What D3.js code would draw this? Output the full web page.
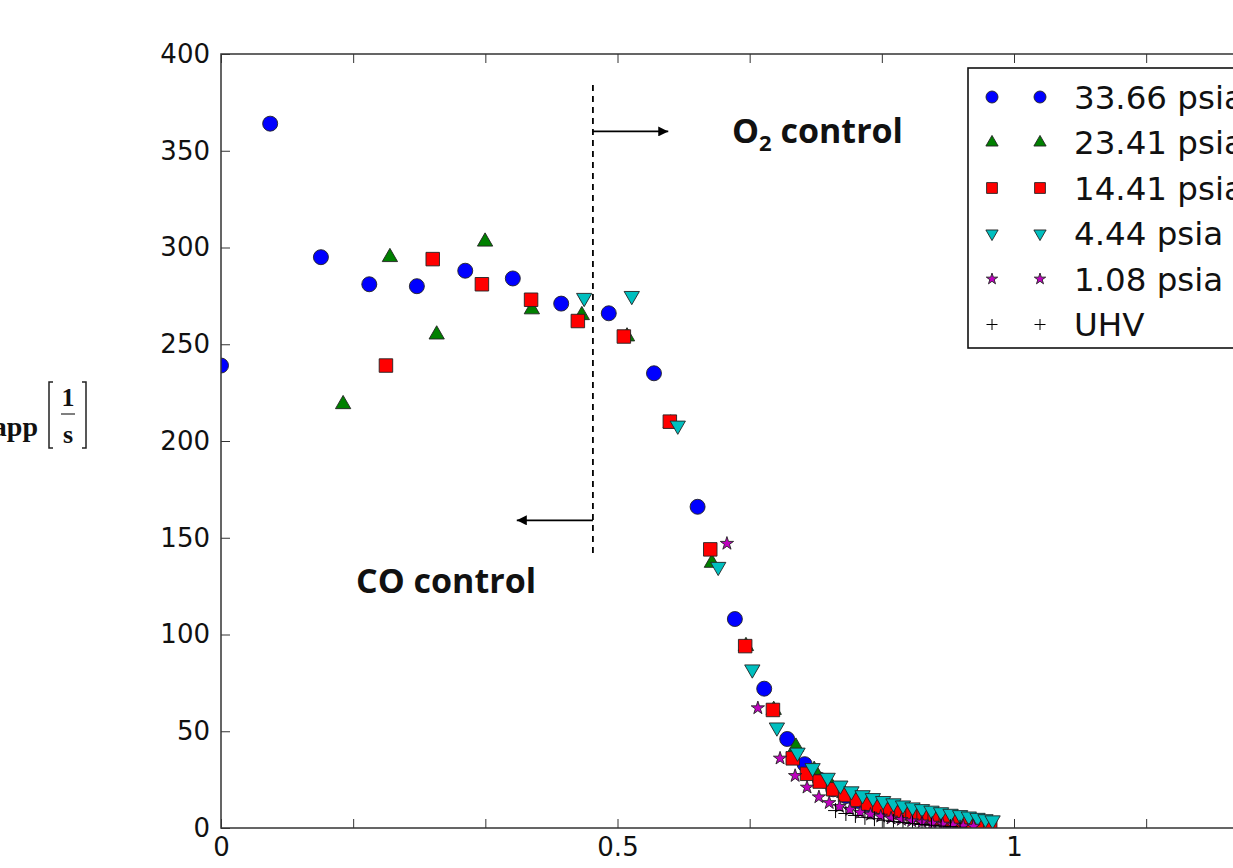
<!DOCTYPE html>
<html>
<head>
<meta charset="utf-8">
<script src="https://d3js.org/d3.v7.min.js"></script>
<style>
  html, body { margin: 0; background: #fff; overflow: hidden; }
</style>
</head>
<body>
<svg id="svg"></svg>
<script>
// ---- data ----
const seriesNames = ["33.66 psia", "23.41 psia", "14.41 psia", "4.44 psia", "1.08 psia", "UHV"];

const x3366 = [0, 0.062, 0.126, 0.187, 0.247, 0.308, 0.368, 0.429, 0.489, 0.546, 0.601, 0.648, 0.685, 0.714, 0.736, 0.755, 0.772, 0.788, 0.803, 0.818, 0.832, 0.846, 0.860, 0.874, 0.888, 0.902, 0.916, 0.930, 0.944];
const y3366 = [239, 364, 295, 281, 280, 288, 284, 271, 266, 235, 166, 108, 72, 46, 33, 25, 20, 16.5, 14, 12, 10.5, 9, 8, 7, 6, 5, 4, 3, 2];

const x2341 = [0.154, 0.213, 0.272, 0.333, 0.392, 0.455, 0.512, 0.567, 0.619, 0.662, 0.697, 0.725, 0.748, 0.768, 0.786, 0.802, 0.818, 0.833, 0.848, 0.862, 0.876, 0.890, 0.904, 0.918, 0.932, 0.946, 0.960];
const y2341 = [219, 295, 255, 303, 268, 265, 254, 209, 137, 94, 61, 42, 30, 23, 18, 15, 12.5, 10.5, 9, 7.5, 6.5, 5.5, 4.5, 3.5, 2.5, 1.8, 1];

const x1441 = [0.208, 0.267, 0.329, 0.391, 0.450, 0.508, 0.566, 0.617, 0.661, 0.696, 0.721, 0.739, 0.755, 0.772, 0.787, 0.802, 0.816, 0.830, 0.844, 0.858, 0.872, 0.886, 0.900, 0.914, 0.928, 0.942, 0.956, 0.970];
const y1441 = [239, 294, 281, 273, 262, 254, 210, 144, 94, 61, 36, 28, 24, 20, 17, 14.5, 12.5, 11, 9.5, 8, 7, 6, 5, 4, 3, 2, 1.2, 0.5];

const x444 = [0.458, 0.518, 0.576, 0.627, 0.670, 0.701, 0.727, 0.746, 0.765, 0.781, 0.795, 0.809, 0.822, 0.835, 0.848, 0.860, 0.872, 0.884, 0.896, 0.908, 0.920, 0.932, 0.943, 0.954, 0.964, 0.973];
const y444 = [274, 275, 208, 135, 82, 52, 39, 31, 26, 22, 19, 17, 15.5, 14, 12.8, 11.7, 10.7, 9.8, 9, 8.2, 7.4, 6.7, 6, 5.3, 4.6, 4];

const x108 = [0.638, 0.677, 0.705, 0.724, 0.739, 0.754, 0.767, 0.780, 0.793, 0.806, 0.819, 0.832, 0.845, 0.858, 0.871, 0.884, 0.897, 0.910, 0.923, 0.936, 0.949];
const y108 = [147, 62, 36, 27, 21, 16, 13, 11, 9.5, 8, 7, 6, 5, 4.3, 3.6, 3, 2.4, 1.9, 1.4, 1, 0.8];

const xUHV = [0.775, 0.788, 0.800, 0.812, 0.824, 0.836, 0.848, 0.860, 0.872, 0.884, 0.896, 0.908, 0.920, 0.932];
const yUHV = [9, 7.5, 6.5, 5.5, 4.8, 4, 3.4, 2.8, 2.3, 1.8, 1.4, 1, 0.7, 0.4];

const xTicks = [0, 1/6, 2/6, 0.5, 4/6, 5/6, 1, 7/6, 8/6, 1.5];
const xTickLabels = {0: "0", 0.5: "0.5", 1: "1"};
const yTicks = [0, 50, 100, 150, 200, 250, 300, 350, 400];

// boundary between regimes and the arrows
const divider = {x: 0.469, y0: 141, y1: 384};
const arrowO2 = {x0: 0.469, x1: 0.564, y: 360};
const arrowCO = {x0: 0.469, x1: 0.373, y: 159};

// ---- layout ----
const W = 1233, H = 868;
const svg = d3.select("#svg").attr("width", W).attr("height", H);

const plotLeft = 221, plotTop = 54, plotBottom = 828;
const x = d3.scaleLinear().domain([0, 1.5]).range([plotLeft, plotLeft + 793 * 1.5]);
const y = d3.scaleLinear().domain([0, 400]).range([plotBottom, plotTop]);

const series = [
  {name: seriesNames[0], xs: x3366, ys: y3366, color: "#0000ff", shape: "circle"},
  {name: seriesNames[1], xs: x2341, ys: y2341, color: "#008000", shape: "tri"},
  {name: seriesNames[2], xs: x1441, ys: y1441, color: "#ff0000", shape: "square"},
  {name: seriesNames[3], xs: x444, ys: y444, color: "#00bfbf", shape: "tridown"},
  {name: seriesNames[4], xs: x108, ys: y108, color: "#bf00bf", shape: "star"},
  {name: seriesNames[5], xs: xUHV, ys: yUHV, color: "#000000", shape: "plus"}
];

function markerPath(shape, s) {
  // s = nominal marker size in px
  switch (shape) {
    case "circle": return d3.symbol(d3.symbolCircle, Math.PI * (s / 2) ** 2)();
    case "square": return d3.symbol(d3.symbolSquare, (s * 0.9) ** 2)();
    case "tri": return d3.symbol(d3.symbolTriangle, (s ** 2) * 0.45)();
    case "tridown": return d3.symbol(d3.symbolTriangle, (s ** 2) * 0.45)();
    case "star": return d3.symbol(d3.symbolStar, (s ** 2) * 0.28)();
    case "plus": {
      const h = s / 2;
      return `M${-h},0L${h},0M0,${-h}L0,${h}`;
    }
  }
}

function drawMarker(g, shape, color, s, cx, cy) {
  const p = g.append("path")
    .attr("d", markerPath(shape, s))
    .attr("transform", `translate(${cx},${cy})` + (shape === "tridown" ? " rotate(180)" : ""));
  if (shape === "plus") {
    p.attr("fill", "none").attr("stroke", color).attr("stroke-width", 1);
  } else {
    p.attr("fill", color).attr("stroke", "#222").attr("stroke-width", 0.9);
  }
}

svg.append("clipPath").attr("id", "clip")
  .append("rect").attr("x", plotLeft).attr("y", plotTop).attr("width", x(1.5) - plotLeft).attr("height", plotBottom - plotTop);

const plot = svg.append("g").attr("clip-path", "url(#clip)");
series.forEach(sr => {
  const g = plot.append("g");
  sr.xs.forEach((xv, i) => drawMarker(g, sr.shape, sr.color, sr.shape === "star" ? 14 : 15, x(xv), y(sr.ys[i])));
});

// ---- axes frame ----
svg.append("rect")
  .attr("x", plotLeft).attr("y", plotTop)
  .attr("width", x(1.5) - plotLeft).attr("height", plotBottom - plotTop)
  .attr("fill", "none").attr("stroke", "#333").attr("stroke-width", 1.5);

const axisX = svg.append("g").attr("transform", `translate(0,${plotBottom})`)
  .call(d3.axisBottom(x).tickValues(xTicks).tickSizeInner(-9).tickSizeOuter(0)
    .tickFormat(d => xTickLabels[Math.round(d * 1e6) / 1e6] || ""));
axisX.select(".domain").remove();
axisX.selectAll(".tick line").attr("stroke", "#333");
axisX.selectAll(".tick text").style("font-family", "'DejaVu Sans', sans-serif").style("font-size", "26px")
  .attr("fill", "#111").attr("dy", "0.95em");

const axisTop = svg.append("g").attr("transform", `translate(0,${plotTop})`)
  .call(d3.axisTop(x).tickValues(xTicks).tickSizeInner(-9).tickSizeOuter(0).tickFormat(""));
axisTop.select(".domain").remove();
axisTop.selectAll(".tick line").attr("stroke", "#333");

const axisY = svg.append("g").attr("transform", `translate(${plotLeft},0)`)
  .call(d3.axisLeft(y).tickValues(yTicks).tickSizeInner(-9).tickSizeOuter(0).tickPadding(11));
axisY.select(".domain").remove();
axisY.selectAll(".tick line").attr("stroke", "#333");
axisY.selectAll(".tick text").style("font-family", "'DejaVu Sans', sans-serif").style("font-size", "26px").attr("fill", "#111");

// ---- annotations ----
svg.append("defs").append("marker")
  .attr("id", "arrow").attr("viewBox", "0 0 10 10").attr("refX", 10).attr("refY", 5)
  .attr("markerWidth", 14).attr("markerHeight", 10).attr("markerUnits", "userSpaceOnUse").attr("orient", "auto")
  .append("path").attr("d", "M0,0L10,5L0,10Z").attr("fill", "#000");

svg.append("line")
  .attr("x1", x(divider.x)).attr("x2", x(divider.x))
  .attr("y1", y(divider.y1)).attr("y2", y(divider.y0))
  .attr("stroke", "#000").attr("stroke-width", 1.8).attr("stroke-dasharray", "6,5");

[arrowO2, arrowCO].forEach(a => {
  svg.append("line")
    .attr("x1", x(a.x0)).attr("x2", x(a.x1)).attr("y1", y(a.y)).attr("y2", y(a.y))
    .attr("stroke", "#000").attr("stroke-width", 1.6).attr("marker-end", "url(#arrow)");
});

const annoFont = "'Open Sans', Lato, sans-serif";
const o2 = svg.append("text").attr("x", 732).attr("y", 143)
  .style("font-family", annoFont).style("font-weight", "bold").style("font-size", "34px").attr("fill", "#111");
o2.append("tspan").text("O");
o2.append("tspan").style("font-size", "22px").attr("dy", 8).text("2");
o2.append("tspan").attr("dy", -8).text(" control");

svg.append("text").attr("x", 356).attr("y", 593)
  .style("font-family", annoFont).style("font-weight", "bold").style("font-size", "34px").attr("fill", "#111")
  .text("CO control");

// ---- y label (partly cut off at the left edge) ----
const serif = "'Liberation Serif', 'DejaVu Serif', serif";
const yl = svg.append("g").attr("fill", "#111");
yl.append("text").attr("x", 38).attr("y", 436).attr("text-anchor", "end")
  .style("font-family", serif).style("font-weight", "bold").style("font-size", "28px").text("k app");
yl.append("path").attr("d", "M53,382H49V448H53M82,382H86V448H82").attr("fill", "none").attr("stroke", "#222").attr("stroke-width", 1.5);
yl.append("text").attr("x", 68).attr("y", 406).attr("text-anchor", "middle")
  .style("font-family", serif).style("font-weight", "bold").style("font-size", "26px").text("1");
yl.append("line").attr("x1", 61).attr("x2", 75).attr("y1", 414).attr("y2", 414).attr("stroke", "#555").attr("stroke-width", 1.5);
yl.append("text").attr("x", 68).attr("y", 443).attr("text-anchor", "middle")
  .style("font-family", serif).style("font-weight", "bold").style("font-size", "26px").text("s");

// ---- legend ----
const lg = svg.append("g");
lg.append("rect").attr("x", 968).attr("y", 68).attr("width", 320).attr("height", 280)
  .attr("fill", "#fff").attr("stroke", "#111").attr("stroke-width", 1.6);
series.forEach((sr, i) => {
  const cy = 97 + i * 45.5;
  drawMarker(lg, sr.shape, sr.color, sr.shape === "plus" ? 11 : 12, 992, cy);
  drawMarker(lg, sr.shape, sr.color, sr.shape === "plus" ? 11 : 12, 1040, cy);
  lg.append("text").attr("x", 1074).attr("y", cy).attr("dy", "0.36em")
    .style("font-family", "'DejaVu Sans', sans-serif").style("font-size", "32.5px").attr("fill", "#111").text(sr.name);
});
</script>
</body>
</html>
